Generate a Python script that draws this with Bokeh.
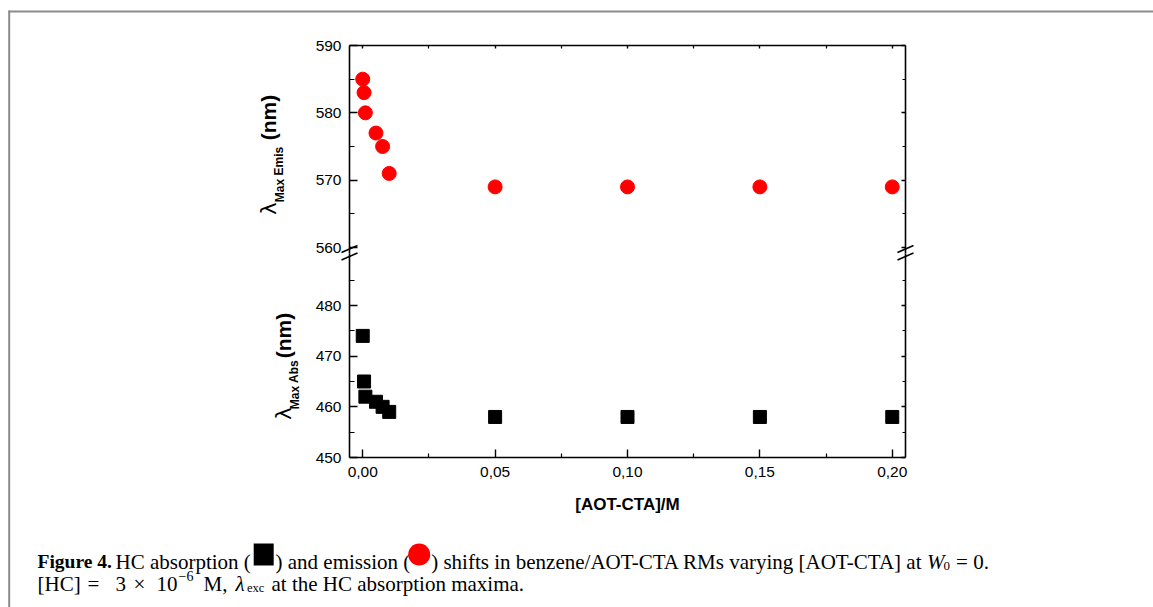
from bokeh.plotting import figure
from bokeh.models import Range1d, LinearAxis, FixedTicker, CustomJSTickFormatter
from bokeh.embed import file_html
from bokeh.resources import INLINE
from bokeh.core.properties import value

# ---------------------------------------------------------------- data
# [AOT-CTA] / M
conc = [0.0, 0.0005, 0.001, 0.005, 0.0075, 0.01, 0.05, 0.10, 0.15, 0.20]
# emission maximum / nm
lambda_emis = [585, 583, 580, 577, 575, 571, 569, 569, 569, 569]
# absorption maximum / nm
lambda_abs = [474, 465, 462, 461, 460, 459, 458, 458, 458, 458]

x_ticks = [0.0, 0.05, 0.10, 0.15, 0.20]
x_tick_labels = ["0,00", "0,05", "0,10", "0,15", "0,20"]
x_minor = [0.025, 0.075, 0.125, 0.175]
emis_ticks = [560, 570, 580, 590]
emis_minor = [565, 575, 585]
abs_ticks = [450, 460, 470, 480]
abs_minor = [455, 465, 475, 485]

# ---------------------------------------------------------------- page geometry (px)
W, H = 1153, 607
FRAME_L, FRAME_R = 349, 905          # plot box, left / right edges
TOP_Y, BREAK_Y, BOT_Y = 45, 253, 457  # plot box top, axis break, bottom
X0, X1 = -0.005, 0.205               # x extent of the plot box
E_TOP, E_PX = 590, 202 / 30          # emission axis: value at top, px per nm
A_BOT, A_PX = 450, 152 / 30          # absorption axis: value at bottom, px per nm
SANS = "Liberation Sans"
SERIF = "Liberation Serif"
GRAY = "#8c8c8c"

x_px = (FRAME_R - FRAME_L) / (X1 - X0)
x_range = Range1d(X0 - FRAME_L / x_px, X1 + (W - FRAME_R) / x_px)
emis_range = Range1d(E_TOP - (H - TOP_Y) / E_PX, E_TOP + TOP_Y / E_PX)
abs_range = Range1d(A_BOT - (H - BOT_Y) / A_PX, A_BOT + BOT_Y / A_PX)
emis_bounds = (E_TOP - (BREAK_Y - TOP_Y) / E_PX, E_TOP)
abs_bounds = (A_BOT, A_BOT + (BOT_Y - BREAK_Y) / A_PX)

p = figure(width=W, height=H, output_backend="svg", toolbar_location=None,
           x_range=x_range, y_range=emis_range,
           x_axis_location=None, y_axis_location=None,
           min_border=0, outline_line_color=None,
           background_fill_color="white", border_fill_color="white")
p.grid.visible = False
p.extra_y_ranges = {"abs": abs_range, "py": Range1d(H, 0)}
p.extra_x_ranges = {"px": Range1d(0, W)}


def make_axis(side, ticks, minor, loc, tick_in, minor_in, labels=None, **kw):
    ax = LinearAxis(ticker=FixedTicker(ticks=ticks, minor_ticks=minor),
                    fixed_location=loc, **kw)
    ax.axis_line_color = "black"
    ax.axis_line_width = 1.6
    ax.major_tick_line_color = "black"
    ax.minor_tick_line_color = "black"
    ax.major_tick_line_width = 1.4
    ax.minor_tick_line_width = 1.2
    ax.major_tick_in = tick_in
    ax.major_tick_out = 0
    ax.minor_tick_in = minor_in
    ax.minor_tick_out = 0
    if labels is False:
        ax.formatter = CustomJSTickFormatter(code="return ''")
        ax.major_label_text_font_size = "0px"
        ax.major_label_standoff = 0
    else:
        if labels:
            ax.major_label_overrides = labels
        ax.major_label_text_font = SANS
        ax.major_label_text_font_size = "15.5px"
        ax.major_label_text_color = "black"
        ax.major_label_standoff = 8
    p.add_layout(ax, side)
    return ax


# upper panel: emission
make_axis("left", emis_ticks, emis_minor, X0, 8, 5, bounds=emis_bounds)
make_axis("right", emis_ticks, emis_minor, X1, 4, 3, labels=False, bounds=emis_bounds)
make_axis("above", x_ticks, x_minor, E_TOP, 3, 3, labels=False, bounds=(X0, X1))
# lower panel: absorption
make_axis("left", abs_ticks, abs_minor, X0, 8, 5, bounds=abs_bounds, y_range_name="abs")
make_axis("right", abs_ticks, abs_minor, X1, 4, 3, labels=False, bounds=abs_bounds,
          y_range_name="abs")
bottom = make_axis("below", x_ticks, x_minor, A_BOT, 8, 4,
                   labels=dict(zip(x_ticks, x_tick_labels)),
                   bounds=(X0, X1), y_range_name="abs")
bottom.major_label_standoff = 9
bottom.axis_label = "[AOT-CTA]/M"
bottom.axis_label_text_font = SANS
bottom.axis_label_text_font_size = "17px"
bottom.axis_label_text_font_style = "bold"
bottom.axis_label_text_color = "black"
bottom.axis_label_standoff = 15

# data
p.scatter(conc, lambda_emis, marker="circle", size=14,
          fill_color="#ff0000", line_color="#ff0000")
p.scatter(conc, lambda_abs, marker="square", size=13,
          fill_color="black", line_color="black", y_range_name="abs")

PX = dict(x_range_name="px", y_range_name="py")


def text(x, y, s, font=SANS, size=15, style="normal", align="left",
         baseline="alphabetic", angle=0.0):
    p.text(x=[x], y=[y], text=[s], text_font=value(font), text_font_size=f"{size}px",
           text_font_style=style, text_color="black", text_align=align,
           text_baseline=baseline, angle=angle, **PX)


# rotated y-axis titles
V = 1.5708
text(268, 208, "λ", font="DejaVu Sans", size=21, align="center", baseline="middle", angle=V)
text(279, 174, "Max Emis", size=12, style="bold", align="center", baseline="middle", angle=V)
text(268, 117, "(nm)", size=21, style="bold", align="center", baseline="middle", angle=V)
text(283, 413, "λ", font="DejaVu Sans", size=21, align="center", baseline="middle", angle=V)
text(294, 384, "Max Abs", size=12, style="bold", align="center", baseline="middle", angle=V)
text(283, 335, "(nm)", size=21, style="bold", align="center", baseline="middle", angle=V)

# axis-break marks on both vertical axes
bx, by = [], []
for cx in (FRAME_L, FRAME_R):
    for cy in (BREAK_Y - 4.5, BREAK_Y + 3):
        bx.append(cx)
        by.append(cy)
p.segment(x0=[c - 8 for c in bx], y0=[c + 3.6 for c in by],
          x1=[c + 8 for c in bx], y1=[c - 3.6 for c in by],
          line_color="black", line_width=1.6, **PX)

# page frame lines
p.segment(x0=[8], y0=[11], x1=[W], y1=[11], line_color=GRAY, line_width=2, **PX)
p.segment(x0=[8.7], y0=[10], x1=[8.7], y1=[H], line_color=GRAY, line_width=2, **PX)

# ---------------------------------------------------------------- caption
_W = {' ': 250, '(': 333, ')': 333, ',': 250, '-': 333, '.': 250, '/': 278, '=': 564,
      '[': 333, ']': 333, '×': 564, '−': 564, 'λ': 549,
      'A': 722, 'C': 667, 'F': 611, 'H': 722, 'M': 889, 'O': 722, 'R': 667, 'T': 611,
      'W': 833, 'a': 444, 'b': 500, 'c': 444, 'd': 500, 'e': 444, 'f': 333, 'g': 500,
      'h': 500, 'i': 278, 'm': 778, 'n': 500, 'o': 500, 'p': 500, 'r': 333, 's': 389,
      't': 278, 'u': 500, 'v': 500, 'x': 500, 'y': 500, 'z': 444}


def tw(s, size):
    return sum(_W.get(c, 500) for c in s) / 1000.0 * size


FS, SUB = 21, 13


def run(x, y, s, size=FS, style="normal"):
    text(x, y, s, font=SERIF, size=size, style=style)
    return x + tw(s, size)


y1, y2 = 561, 583
run(37, y1, "Figure 4.", size=19.5, style="bold")
run(115, y1, "HC absorption (")
p.rect(x=[263.2], y=[y1 - 7], width=20, height=22, fill_color="black", line_color=None, **PX)
run(275, y1, ") and emission (")
p.ellipse(x=[418.7], y=[y1 - 7], width=22, height=22, fill_color="#ff0000",
          line_color=None, **PX)
x = run(430.7, y1, ") shifts in benzene/AOT-CTA RMs varying [AOT-CTA] at ")
x = run(x - 8, y1, "W", style="italic")
x = run(x - 1, y1 + 4, "0", size=SUB)
run(x + 6, y1, "=  0.")

run(37, y2, "[HC]")
run(87, y2, "=")
run(115, y2, "3")
run(133, y2, "×")
run(156, y2, "10")
run(178, y2 - 8, "−6", size=14)
run(203, y2, "M,")
run(235, y2, "λ", style="italic")
run(246.5, y2 + 4, "exc", size=12.5)
run(271, y2, "at the HC absorption maxima.")

open("out.html", "w").write(file_html(p, INLINE))
